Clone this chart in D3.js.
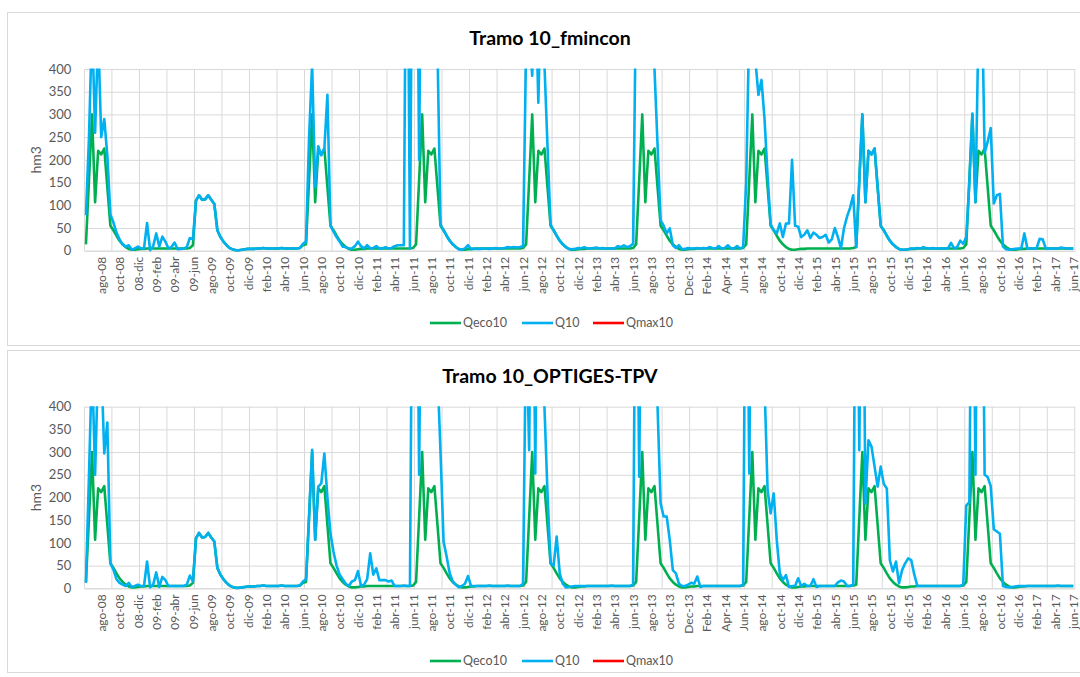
<!DOCTYPE html>
<html><head><meta charset="utf-8">
<script src="https://cdn.jsdelivr.net/npm/d3@7"></script>
<style>
body{margin:0;background:#fff;}
svg{display:block;font-family:Lato,"Open Sans",sans-serif;}
</style></head>
<body><svg id="c" width="1080" height="677"></svg>
<script>
// ---------- DATA (10-day periods, 36 per hydrological year, starting mid-June 2008) ----------
const tickLabels = ["ago-08","oct-08","08-dic","09-feb","09-abr","09-jun","ago-09","oct-09","dic-09","feb-10","abr-10","jun-10",
 "ago-10","oct-10","dic-10","feb-11","abr-11","jun-11","ago-11","oct-11","dic-11","feb-12","abr-12","jun-12",
 "ago-12","oct-12","dic-12","feb-13","abr-13","jun-13","ago-13","oct-13","Dec-13","Feb-14","Apr-14","Jun-14",
 "ago-14","oct-14","dic-14","feb-15","abr-15","jun-15","ago-15","oct-15","dic-15","feb-16","abr-16","jun-16",
 "ago-16","oct-16","dic-16","feb-17","abr-17","jun-17"];
const yTicks = [0,50,100,150,200,250,300,350,400];
const seriesNames = ["Qeco10","Q10","Qmax10"];
const seriesColors = ["#00B050","#00B0F0","#FF0000"];
const panelTitles = ["Tramo 10_fmincon","Tramo 10_OPTIGES-TPV"];

const qeco10 = [].concat(
 [14,155,300,107,220,212,225,140,55,45,33,22,14,8,4,2,2,3,4,4,5,5,5,5,5,5,5,5,5,5,5,5,5,5,6,12],
 [110,122,112,113,122,112,103,45,30,20,12,6,3,1,1,2,3,4,4,4,5,5,6,5,5,5,5,5,6,5,5,5,5,5,6,12],
 [14,155,300,107,220,212,225,140,55,45,33,22,14,8,4,2,2,3,4,4,5,5,5,5,5,5,5,5,5,5,5,5,5,5,5,6],
 [14,155,300,107,220,212,225,140,55,45,33,22,14,8,4,2,2,3,4,4,5,5,5,5,5,5,5,5,5,5,5,5,5,5,5,6],
 [14,155,300,107,220,212,225,140,55,45,33,22,14,8,4,2,2,3,4,4,5,5,5,5,5,5,5,5,5,5,5,5,5,5,5,6],
 [14,155,300,107,220,212,225,140,55,45,33,22,14,8,4,2,2,3,4,4,5,5,5,5,5,5,5,5,5,5,5,5,5,5,5,6],
 [14,155,300,107,220,212,225,140,55,45,33,22,14,8,4,2,2,3,4,4,5,5,5,5,5,5,5,5,5,5,5,5,5,5,5,6],
 [8,155,300,107,220,212,225,140,55,45,33,22,14,8,4,2,2,3,4,4,5,5,5,5,5,5,5,5,5,5,5,5,5,5,5,6],
 [14,155,300,107,220,212,225,140,55,45,33,22,14,8,4,2,2,3,4,4,5,5,5,5,5,5,5,5,5,5,5,5,5,5,5,5]
);
const q10_fmincon = [].concat(
 [78,250,500,260,480,250,290,210,80,62,40,25,14,9,12,2,5,9,5,5,61,1,10,38,9,31,20,5,8,18,3,4,5,8,28,25],
 [110,122,112,113,122,112,103,45,30,20,12,6,3,1,1,2,3,4,4,4,5,5,6,5,5,5,5,5,6,5,5,5,5,5,6,15],
 [20,250,410,140,230,210,225,343,55,42,30,20,9,8,5,5,10,20,10,5,12,5,6,10,5,5,8,5,6,10,12,12,12,1000,5,1000],
 [1000,200,1000,1000,1000,1000,1000,450,58,45,33,22,14,8,3,2,5,12,3,5,4,4,5,5,4,5,6,5,5,6,8,7,8,7,8,10],
 [450,480,385,600,326,600,410,230,58,45,33,22,14,8,4,3,4,6,5,8,5,5,6,7,5,6,5,5,5,5,10,8,12,8,10,15],
 [600,1000,1000,1000,1000,1000,400,233,67,55,38,49,12,6,12,3,4,6,5,5,6,5,6,5,8,6,5,10,5,6,12,5,5,10,5,8],
 [150,500,550,420,343,376,290,165,58,45,38,60,30,60,60,200,55,53,30,35,45,28,40,35,28,30,35,18,25,50,30,5,50,75,95,122],
 [8,155,300,107,220,212,225,140,55,45,33,22,14,8,4,2,2,3,5,5,6,5,8,5,5,6,5,5,5,5,5,17,5,8,22,15],
 [30,150,302,107,500,600,215,240,270,104,122,125,9,3,2,3,4,5,5,38,5,5,5,5,26,25,5,5,5,5,5,7,6,5,5,5]
);
const q10_optiges = [].concat(
 [12,250,500,250,500,500,297,365,55,41,20,12,8,5,12,3,5,8,5,5,59,2,8,35,3,25,18,5,5,5,5,5,5,8,28,15],
 [110,122,112,113,122,112,103,45,30,20,12,6,3,1,1,2,3,4,4,4,5,5,6,5,5,5,5,5,6,5,5,5,5,5,6,15],
 [20,160,305,107,224,231,297,200,120,80,50,30,20,10,5,15,18,38,5,8,20,77,30,44,18,18,18,15,17,5,5,5,6,5,5,1000],
 [1000,250,1000,1000,1000,1000,1000,480,300,103,70,33,15,8,2,5,10,27,5,5,5,5,5,5,6,5,5,5,5,5,6,5,5,5,5,10],
 [600,304,1000,253,1000,1000,400,209,55,50,114,33,10,2,3,4,5,5,5,5,5,5,5,5,5,5,5,5,6,5,5,5,5,5,5,8],
 [1000,246,1000,1000,1000,1000,1000,400,187,158,158,106,40,33,10,5,5,8,12,10,26,3,5,5,5,5,5,5,5,5,5,5,5,5,5,8],
 [1000,253,1000,1000,1000,1000,450,216,165,209,106,33,18,29,3,5,5,22,5,10,5,5,20,3,5,5,5,5,5,5,13,17,15,5,5,8],
 [1000,304,1000,187,326,312,268,224,268,230,220,62,37,59,11,40,55,66,62,30,5,5,5,5,5,5,5,5,5,5,5,5,5,5,5,8],
 [182,190,1000,250,1000,1000,250,245,225,130,125,120,5,3,2,3,4,5,5,5,5,5,5,5,5,5,5,5,5,5,6,5,5,5,5,5]
);
const qmax10 = []; // maximum flow: above the 0-400 range, not visible in the chart

[qeco10,q10_fmincon,q10_optiges].forEach((a,k)=>{ if(a.length!==324) throw new Error("series "+k+" length "+a.length); });

// ---------- LAYOUT ----------
const svg = d3.select("#c");
const plotLeft = 84.4, plotRight = 1074.8;
const nPeriods = qeco10.length;
const firstLabel = 5, labelStep = 6, gridStep = 9;
const x = d3.scaleLinear().domain([0, nPeriods]).range([plotLeft, plotRight]);
const labelIdx = tickLabels.map((t,j)=> firstLabel + j*labelStep + 0.5);
const gridIdx = d3.range(0, nPeriods + 1, gridStep);

const panels = [
 {title: panelTitles[0], q10: q10_fmincon, boxTop: 12.5, boxBottom: 345.5, plotTop: 69, plotBottom: 250.7, titleY: 45, legendY: 323},
 {title: panelTitles[1], q10: q10_optiges, boxTop: 350.5, boxBottom: 672.5, plotTop: 406.7, plotBottom: 588.3, titleY: 382.5, legendY: 661}
];
const textColor = "#595959", gridColor = "#d9d9d9";

panels.forEach((p, pi) => {
  const g = svg.append("g");
  g.append("rect").attr("x", 7.5).attr("y", p.boxTop).attr("width", 1090).attr("height", p.boxBottom - p.boxTop)
    .attr("fill", "#fff").attr("stroke", gridColor).attr("stroke-width", 1);

  g.append("text").attr("x", 550).attr("y", p.titleY).attr("text-anchor", "middle")
    .attr("font-size", 19.5).attr("font-weight", "bold").attr("fill", "#000").text(p.title);

  const y = d3.scaleLinear().domain([0, 400]).range([p.plotBottom, p.plotTop]);

  const ya = g.append("g").attr("transform", `translate(${plotLeft},0)`)
    .call(d3.axisLeft(y).tickValues(yTicks).tickSize(-(plotRight - plotLeft)).tickPadding(13));
  ya.select(".domain").remove();
  ya.selectAll(".tick line").attr("stroke", gridColor);
  ya.selectAll(".tick text").attr("fill", textColor).attr("font-size", 13).attr("font-family", "Lato");

  g.append("g").selectAll("line").data(gridIdx).join("line")
    .attr("x1", d => x(d)).attr("x2", d => x(d)).attr("y1", p.plotTop).attr("y2", p.plotBottom)
    .attr("stroke", gridColor);

  const xa = g.append("g").attr("transform", `translate(0,${p.plotBottom})`)
    .call(d3.axisBottom(x).tickValues(labelIdx).tickSize(0).tickFormat((d, j) => tickLabels[j]));
  xa.select(".domain").attr("stroke", gridColor);
  xa.selectAll(".tick text").attr("fill", textColor).attr("font-size", 12).attr("font-family", "Lato")
    .attr("transform", "rotate(-90)").attr("text-anchor", "end").attr("x", -6).attr("y", 0).attr("dy", "0.35em");

  g.append("text").attr("transform", `translate(41,${(p.plotTop + p.plotBottom) / 2}) rotate(-90)`)
    .attr("text-anchor", "middle").attr("font-size", 14).attr("fill", textColor).text("hm3");

  const cid = "clip" + pi;
  svg.append("defs").append("clipPath").attr("id", cid).append("rect")
    .attr("x", plotLeft).attr("y", p.plotTop - 0.5).attr("width", plotRight - plotLeft).attr("height", p.plotBottom - p.plotTop + 2);

  const line = d3.line().x((d, i) => x(i + 0.5)).y(d => y(d));
  const lg = g.append("g").attr("clip-path", `url(#${cid})`);
  [qeco10, p.q10, qmax10].forEach((s, k) => {
    if (!s.length) return;
    lg.append("path").datum(s).attr("d", line).attr("fill", "none")
      .attr("stroke", seriesColors[k]).attr("stroke-width", 2.6).attr("stroke-linejoin", "round");
  });

  const legendX = [430, 522, 593];
  const leg = g.append("g");
  seriesNames.forEach((n, k) => {
    leg.append("line").attr("x1", legendX[k]).attr("x2", legendX[k] + 31).attr("y1", p.legendY).attr("y2", p.legendY)
      .attr("stroke", seriesColors[k]).attr("stroke-width", 2.6);
    leg.append("text").attr("x", legendX[k] + 33).attr("y", p.legendY).attr("dy", "0.35em")
      .attr("font-size", 12.5).attr("fill", textColor).text(n);
  });
});
</script>
</body></html>
